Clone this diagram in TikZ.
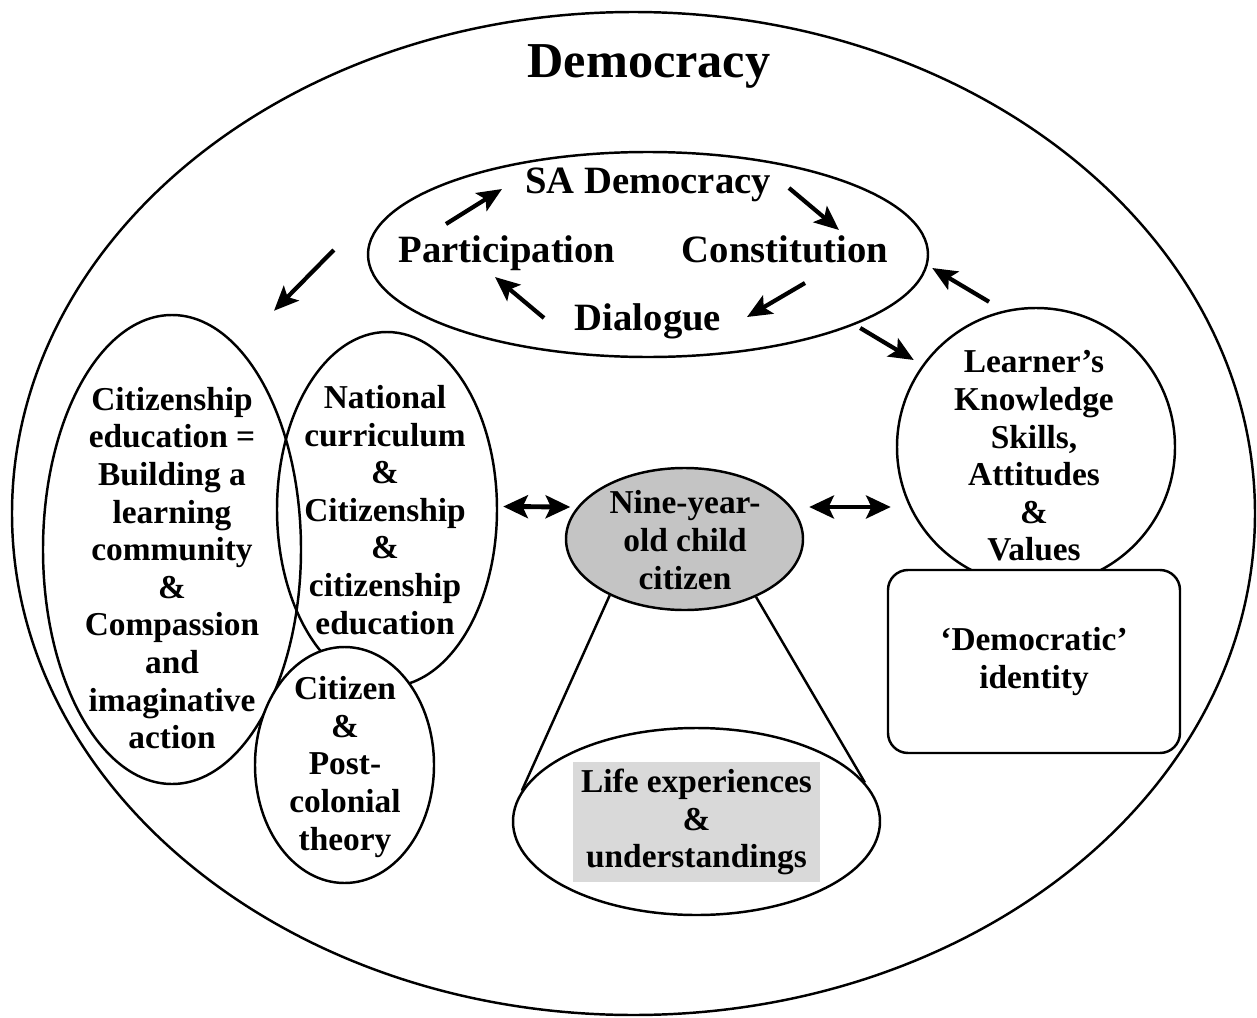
\documentclass[tikz,border=0pt]{standalone}
\usepackage{fontspec}
\setmainfont{Liberation Serif}
\usetikzlibrary{shapes.geometric,arrows.meta}
\begin{document}
\begin{tikzpicture}[x=0.1mm,y=-0.1mm,
  outline/.style={draw, line width=0.7pt},
  oval/.style={ellipse, outline, inner sep=0pt},
  lbl/.style={font=\fontsize{9.5}{10.7}\selectfont\bfseries, align=center, inner sep=0pt},
  toplbl/.style={font=\fontsize{11}{13}\selectfont\bfseries, inner sep=0pt, anchor=base},
  arr/.style={line width=1.2pt, -{Stealth[length=7pt,width=6pt,inset=1.5pt]}},
  darr/.style={line width=1.4pt, {Stealth[length=7pt,width=6.5pt,inset=1.5pt]}-{Stealth[length=7pt,width=6.5pt,inset=1.5pt]}}
]
\path[use as bounding box] (0,0) rectangle (1257,1018);

% outer frame and title
\node[oval, minimum width=124.3mm, minimum height=100.3mm] (dem) at (633.5,513.5) {};
\node[font=\fontsize{14.3}{16}\selectfont\bfseries, inner sep=0pt] (demt) at (649,66) {Democracy};

% the SA democracy cycle
\node[oval, minimum width=56mm, minimum height=20.5mm] (sa) at (648,254.5) {};
\node[toplbl] (sad) at (648,193) {SA Democracy};
\node[toplbl] (part) at (507,262) {Participation};
\node[toplbl] (con) at (785,262) {Constitution};
\node[toplbl] (dia) at (648,330) {Dialogue};

\draw[arr] ([shift={(-61,-38)}]part.base) -- ([shift={(-146,-4)}]sad.base);
\draw[arr] ([shift={(141,-5)}]sad.base) -- ([shift={(54,-32)}]con.base);
\draw[arr] ([shift={(20,21)}]con.base) -- ([shift={(99,-13)}]dia.base);
\draw[arr] ([shift={(-104,-12)}]dia.base) -- ([shift={(-12,15)}]part.base);

% left cluster of ovals
\node[oval, minimum width=25.8mm, minimum height=46.9mm] (cit) at (172,549.5) {};
\node[oval, minimum width=22mm, minimum height=35.5mm] (nat) at (387,509.5) {};
\node[oval, fill=white, minimum width=17.9mm, minimum height=23.6mm] (pc) at (344.5,765) {};

\node[lbl] (citT) at (172,568) {Citizenship\\education =\\Building a\\learning\\community\\\&\\Compassion\\and\\imaginative\\action};
\node[lbl] (natT) at (385,510) {National\\curriculum\\\&\\Citizenship\\\&\\citizenship\\education};
\node[lbl] (pcT) at (345,767) {Citizen\\\&\\Post-\\colonial\\theory};

% centre: the child and the cone of experience
\node[oval, fill=black!23, minimum width=23.7mm, minimum height=14.2mm] (nine) at (684.5,539) {};
\node[lbl] (nineT) at (685,540) {Nine-year-\\old child\\citizen};
\node[oval, minimum width=36.7mm, minimum height=18.7mm] (life) at (696.5,821.5) {};
\node[lbl, fill=black!15, minimum width=24.7mm, minimum height=12mm] (lifebox) at (696.5,822) {Life experiences\\\&\\understandings};
\draw[line width=0.7pt] (nine.217.7) -- (life.170.8);
\draw[line width=0.7pt] (nine.321.7) -- (life.13.5);

% right: learner and identity
\node[circle, outline, inner sep=0pt, minimum size=27.8mm] (lrn) at (1036,447) {};
\node[lbl] (lrnT) at (1034,456) {Learner’s\\Knowledge\\Skills,\\Attitudes\\\&\\Values};
\node[lbl, outline, fill=white, rounded corners=2mm, minimum width=29.2mm, minimum height=18.3mm] (ident) at (1034,661.5) {‘Democratic’\\identity};

% connectors between the groups
\draw[arr] ([shift={(-33,-4.5)}]sa.west) -- ([shift={(102,-3)}]cit.north);
\draw[arr] ([shift={(-47,-5)}]lrn.north) -- ([shift={(3,13.5)}]sa.east);
\draw[arr] ([shift={(-69,73.5)}]sa.east) -- ([shift={(18,-87)}]lrn.west);
\draw[darr] ([shift={(5,-3)}]nat.east) -- ([shift={(5.5,-32)}]nine.west);
\draw[darr] ([shift={(5,-32)}]nine.east) -- ([shift={(-5,60)}]lrn.west);
\end{tikzpicture}
\end{document}
